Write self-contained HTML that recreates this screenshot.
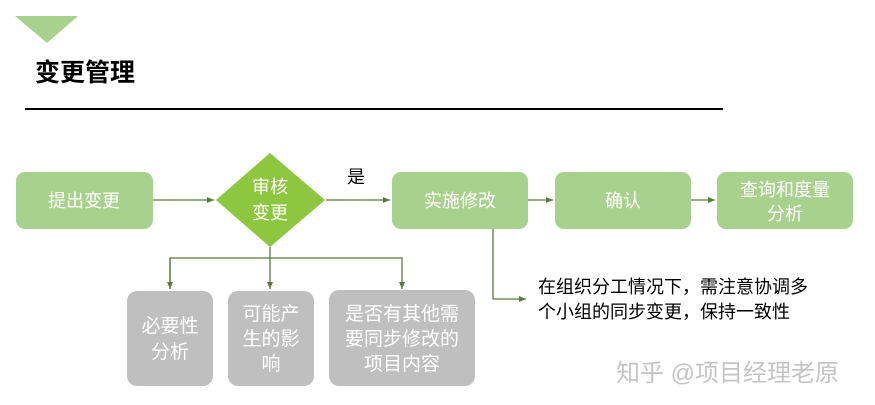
<!DOCTYPE html>
<html><head><meta charset="utf-8"><style>
html,body{margin:0;padding:0;background:#fff;}
svg{display:block;font-family:"Liberation Sans","Noto Sans CJK SC",sans-serif;}
</style></head><body>
<svg width="875" height="405" viewBox="0 0 875 405" xmlns="http://www.w3.org/2000/svg">
<defs><marker id="a" markerWidth="8" markerHeight="8" refX="7" refY="4" orient="auto" markerUnits="userSpaceOnUse"><path d="M0,1 L7,4 L0,7 Z" fill="#5b7a3a"/></marker></defs>
<polygon points="15,16 78,16 47,43" fill="#a9d18e"/>
<text x="35" y="81" font-size="25" font-weight="bold" fill="#000">变更管理</text>
<line x1="25" y1="109" x2="723" y2="109" stroke="#000" stroke-width="2"/>
<g fill="#a9d18e">
<rect x="16" y="172" width="137" height="57" rx="9"/>
<rect x="392" y="172" width="136" height="57" rx="9"/>
<rect x="555" y="172" width="136" height="57" rx="9"/>
<rect x="717" y="172" width="136" height="57" rx="9"/>
</g>
<polygon points="270,153 325,200 270,247 216,200" fill="#8dc63f"/>
<g fill="#bfbfbf">
<rect x="127" y="291" width="86" height="95" rx="10"/>
<rect x="228" y="291" width="86" height="95" rx="10"/>
<rect x="329" y="290" width="146" height="96" rx="10"/>
</g>
<g stroke="#5b7a3a" stroke-width="1.3" fill="none">
<line x1="153" y1="200" x2="214" y2="200" marker-end="url(#a)"/>
<line x1="326" y1="200" x2="390" y2="200" marker-end="url(#a)"/>
<line x1="528" y1="200" x2="553" y2="200" marker-end="url(#a)"/>
<line x1="691" y1="200" x2="715" y2="200" marker-end="url(#a)"/>
<polyline points="170,289 170,258 402,258 402,289" marker-end="url(#a)"/>
<line x1="170" y1="258" x2="170" y2="289" marker-end="url(#a)"/>
<line x1="270" y1="247" x2="270" y2="289" marker-end="url(#a)"/>
<polyline points="493,229 493,299 526,299" marker-end="url(#a)"/>
</g>
<g fill="#fff" font-size="18" text-anchor="middle">
<text x="84" y="207">提出变更</text>
<text x="270" y="193">审核</text>
<text x="270" y="219">变更</text>
<text x="460" y="207">实施修改</text>
<text x="623" y="207">确认</text>
<text x="785" y="196">查询和度量</text>
<text x="785" y="220">分析</text>
</g>
<g fill="#fff" font-size="19" text-anchor="middle">
<text x="170" y="332">必要性</text>
<text x="170" y="358">分析</text>
<text x="271" y="320">可能产</text>
<text x="271" y="345">生的影</text>
<text x="271" y="370">响</text>
<text x="402" y="320">是否有其他需</text>
<text x="402" y="345">要同步修改的</text>
<text x="402" y="370">项目内容</text>
</g>
<text x="347" y="183" font-size="18" fill="#000">是</text>
<text x="538" y="293" font-size="18" fill="#000">在组织分工情况下，需注意协调多</text>
<text x="538" y="318" font-size="18" fill="#000">个小组的同步变更，保持一致性</text>
<text x="616" y="381" font-size="24" fill="#c4c4c4">知乎 @项目经理老原</text>
</svg>
</body></html>
